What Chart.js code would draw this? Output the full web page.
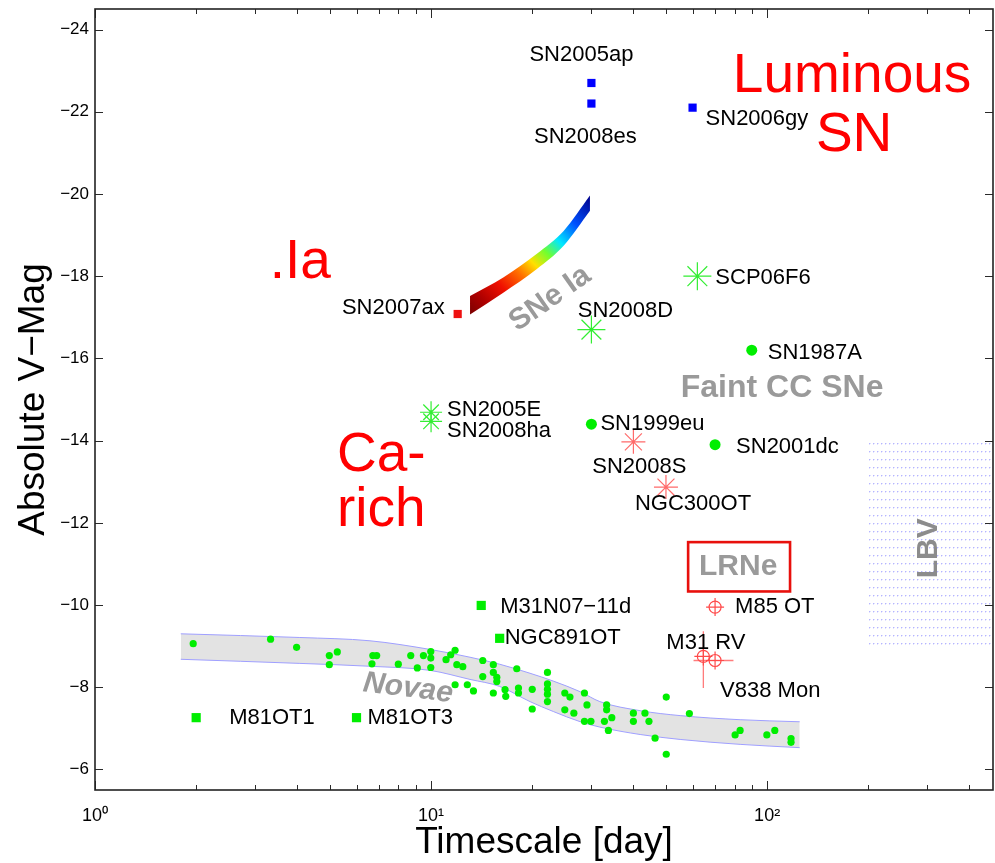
<!DOCTYPE html>
<html><head><meta charset="utf-8">
<script src="https://cdn.jsdelivr.net/npm/chart.js@4/dist/chart.umd.min.js"></script>
<style>html,body{margin:0;padding:0;background:#fff;}#wrap{width:995px;height:863px;}</style>
</head><body><div id="wrap"><canvas id="c" width="995" height="863"></canvas></div>
<script>
const FONT = '"Liberation Sans", Arial, Helvetica, sans-serif';

// ---- axis ticks ----
const xTickValues = [1, 10, 100];
const xTickLabels = ['10\u2070', '10\u00B9', '10\u00B2'];
const yTickValues = [-24, -22, -20, -18, -16, -14, -12, -10, -8, -6];

// ---- luminous SNe (blue squares) ----
const luminousNames = ['SN2005ap', 'SN2008es', 'SN2006gy'];
const luminousT = [30, 30, 60];
const luminousMag = [-22.7, -22.2, -22.1];

// ---- .Ia (red square) ----
const dotIaNames = ['SN2007ax'];
const dotIaT = [12];
const dotIaMag = [-17.08];

// ---- green asterisks ----
const starNames = ['SCP06F6', 'SN2008D', 'SN2005E', 'SN2008ha'];
const starT = [62, 30, 10, 10];
const starMag = [-18.0, -16.7, -14.69, -14.47];

// ---- faint CC SNe (green circles) ----
const ccNames = ['SN1987A', 'SN1999eu', 'SN2001dc'];
const ccT = [90, 30, 70];
const ccMag = [-16.2, -14.4, -13.9];

// ---- red asterisks ----
const redStarNames = ['SN2008S', 'NGC300OT'];
const redStarT = [40, 50];
const redStarMag = [-13.97, -12.87];

// ---- green squares ----
const otNames = ['M31N07\u221211d', 'NGC891OT', 'M81OT1', 'M81OT3'];
const otT = [14.1, 16.0, 2.0, 6.0];
const otMag = [-9.99, -9.19, -7.26, -7.26];

// ---- LRNe (red circled plus) ----
const lrnNames = ['M85 OT', 'M31 RV', 'V838 Mon'];
const lrnT = [70, 64.6, 70];
const lrnMag = [-9.95, -8.75, -8.65];
const m31rvErrMag = [-9.36, -7.98];
const v838ErrT = [60.4, 79.4];

// ---- novae ----
const novaeT = [1.96, 3.33, 3.98, 4.98, 5.26, 4.98, 6.71, 6.89, 6.67, 7.99,
  8.70, 9.10, 9.49, 9.98, 9.98, 9.98, 11.08, 11.44, 11.79, 11.93,
  12.43, 11.79, 12.82, 13.37, 14.25, 14.25, 15.32, 15.32, 15.69, 15.69,
  15.32, 16.6, 16.68, 17.99, 18.2, 18.2, 20.0, 20.0, 22.2, 22.2,
  22.2, 22.2, 22.2, 25.0, 25.9, 25.0, 26.6, 28.6, 29.1, 28.6,
  29.9, 33.3, 33.3, 34.5, 32.8, 33.7, 40.0, 40.0, 43.3, 44.5,
  46.4, 50.1, 58.7, 50.1, 80.3, 83.1, 99.8, 105.4, 117.8, 117.8];
const novaeMag = [-9.06, -9.17, -8.97, -8.77, -8.86, -8.55, -8.77, -8.77, -8.57, -8.56,
  -8.77, -8.47, -8.77, -8.87, -8.71, -8.48, -8.67, -8.79, -8.90, -8.55,
  -8.50, -8.06, -8.06, -7.91, -8.65, -8.26, -8.55, -8.36, -8.24, -8.14,
  -7.86, -7.94, -7.78, -8.45, -7.98, -7.86, -7.95, -7.47, -8.36, -8.08,
  -7.95, -7.83, -7.65, -7.86, -7.76, -7.45, -7.37, -7.86, -7.57, -7.17,
  -7.17, -7.57, -7.45, -7.26, -7.17, -6.95, -7.37, -7.17, -7.37, -7.17,
  -6.76, -7.76, -7.36, -6.37, -6.84, -6.95, -6.84, -6.95, -6.75, -6.66];

// ---- novae band ----
const novaeBandT = [1.8, 4.07, 6.58, 9.93, 13.06, 16.0, 19.7, 23.1, 27.8, 31.8, 41.9, 55.1, 83.1, 125];
const novaeBandUpper = [-9.30, -9.21, -9.13, -8.92, -8.73, -8.56, -8.34, -8.15, -7.89, -7.65, -7.43, -7.31, -7.21, -7.16];
const novaeBandLower = [-8.68, -8.58, -8.51, -8.41, -8.19, -8.02, -7.65, -7.41, -7.16, -7.03, -6.85, -6.73, -6.61, -6.53];

// ---- SNe Ia band ----
const iaBandT = [13.06, 16.4, 20.6, 24.8, 29.7];
const iaBandUpper = [-17.52, -17.97, -18.54, -19.10, -19.96];
const iaBandLower = [-17.07, -17.60, -18.17, -18.74, -19.59];

// ---- LBV region ----
const lbvT = [200, 600];
const lbvMagRange = [-14, -9];

// ---- LRNe box ----
const lrnBoxT = [58.2, 117];
const lrnBoxMag = [-11.53, -10.33];

// ---- text annotations (anchored in data coordinates) ----
const annotations = [
  {text: 'Luminous', t: 179, mag: -22.86, color: '#ff0000', size: 55, bold: false, align: 'center'},
  {text: 'SN', t: 181.5, mag: -21.42, color: '#ff0000', size: 55, bold: false, align: 'center'},
  {text: '.Ia', t: 4.08, mag: -18.32, color: '#ff0000', size: 55, bold: false, align: 'center'},
  {text: 'Ca-', t: 5.25, mag: -13.62, color: '#ff0000', size: 55, bold: false, align: 'left'},
  {text: 'rich', t: 5.25, mag: -12.28, color: '#ff0000', size: 55, bold: false, align: 'left'},
  {text: 'SNe Ia', t: 22.6, mag: -17.45, color: '#9a9a9a', size: 30, bold: true, align: 'center', rot: -35},
  {text: 'Faint CC SNe', t: 110.8, mag: -15.28, color: '#9a9a9a', size: 32, bold: true, align: 'center'},
  {text: 'Novae', t: 8.54, mag: -7.97, color: '#9a9a9a', size: 30, bold: true, italic: true, align: 'center', rot: 7},
  {text: 'LRNe', t: 82, mag: -10.92, color: '#9a9a9a', size: 30, bold: true, align: 'center'},
  {text: 'LBV', t: 303, mag: -11.38, color: '#8c8c8c', size: 30, bold: true, align: 'center', rot: -90}
];

// label placement relative to each marker (pixels)
const labelStyle = {
  'SN2005ap': [-10, -28, 'center'], 'SN2008es': [-6, 33, 'center'], 'SN2006gy': [13, 11, 'left'],
  'SN2007ax': [-13, -6, 'right'], 'SCP06F6': [18, 2, 'left'], 'SN2008D': [34, -19, 'center'],
  'SN1987A': [16, 3, 'left'], 'SN2005E': [16, -2, 'left'], 'SN2008ha': [16, 10, 'left'],
  'SN1999eu': [9, 0, 'left'], 'SN2001dc': [21, 2, 'left'], 'SN2008S': [6, 25, 'center'],
  'NGC300OT': [-31, 17, 'left'], 'M31N07\u221211d': [19, 2, 'left'], 'NGC891OT': [5, 0, 'left'],
  'M85 OT': [20, 0, 'left'], 'M31 RV': [-37, -13, 'left'], 'V838 Mon': [5, 30, 'left'],
  'M81OT1': [33, 0, 'left'], 'M81OT3': [11, 0, 'left']
};

const pts = (ts, ms) => ts.map((t, i) => ({x: t, y: ms[i]}));
const labelGroups = [
  [luminousNames, luminousT, luminousMag], [dotIaNames, dotIaT, dotIaMag],
  [starNames, starT, starMag], [ccNames, ccT, ccMag], [redStarNames, redStarT, redStarMag],
  [otNames, otT, otMag], [lrnNames, lrnT, lrnMag]
];

const canvas = document.getElementById('c');
const mainCtx = canvas.getContext('2d');

// dotted pattern for LBV
const tile = document.createElement('canvas');
tile.width = 4; tile.height = 8;
const tg = tile.getContext('2d');
tg.fillStyle = 'rgba(120,120,255,0.55)';
tg.fillRect(1, 3, 1, 1);
tg.fillStyle = 'rgba(120,120,255,0.22)';
tg.fillRect(2, 3, 1, 1);
tg.fillRect(1, 4, 1, 1);
const lbvPattern = mainCtx.createPattern(tile, 'repeat');

function iaGradient(ctx) {
  const chart = ctx.chart;
  if (!chart.chartArea) return '#ff0000';
  const xs = chart.scales.x, ys = chart.scales.y;
  const g = chart.ctx.createLinearGradient(
    xs.getPixelForValue(iaBandT[0]), ys.getPixelForValue(iaBandLower[0]),
    xs.getPixelForValue(iaBandT[iaBandT.length - 1]), ys.getPixelForValue(iaBandUpper[iaBandT.length - 1]));
  g.addColorStop(0.0, '#7a0000');
  g.addColorStop(0.12, '#b00000');
  g.addColorStop(0.25, '#f01000');
  g.addColorStop(0.38, '#ff7000');
  g.addColorStop(0.48, '#ffe000');
  g.addColorStop(0.58, '#70ff30');
  g.addColorStop(0.68, '#00e8ff');
  g.addColorStop(0.82, '#0050ff');
  g.addColorStop(1.0, '#00008a');
  return g;
}

const bandLine = {showLine: true, pointRadius: 0, borderWidth: 0, cubicInterpolationMode: 'monotone'};

const overlayPlugin = {
  id: 'overlay',
  beforeDatasetsDraw(chart) {
    const {ctx, scales: {x, y}} = chart;
    ctx.save();
    ctx.strokeStyle = 'rgba(255,110,110,0.9)';
    ctx.lineWidth = 1.3;
    const px = x.getPixelForValue(lrnT[1]);
    ctx.beginPath();
    ctx.moveTo(px, y.getPixelForValue(m31rvErrMag[0]));
    ctx.lineTo(px, y.getPixelForValue(m31rvErrMag[1]));
    const py = y.getPixelForValue(lrnMag[2]);
    ctx.moveTo(x.getPixelForValue(v838ErrT[0]), py);
    ctx.lineTo(x.getPixelForValue(v838ErrT[1]), py);
    ctx.stroke();
    ctx.restore();
  },
  afterDatasetsDraw(chart) {
    const {ctx, scales: {x, y}} = chart;
    ctx.save();
    ctx.strokeStyle = '#e8100c';
    ctx.lineWidth = 2.6;
    const bx0 = x.getPixelForValue(lrnBoxT[0]), bx1 = x.getPixelForValue(lrnBoxT[1]);
    const by0 = y.getPixelForValue(lrnBoxMag[0]), by1 = y.getPixelForValue(lrnBoxMag[1]);
    ctx.strokeRect(bx0, by0, bx1 - bx0, by1 - by0);
    annotations.forEach(a => {
      ctx.save();
      ctx.translate(x.getPixelForValue(a.t), y.getPixelForValue(a.mag));
      if (a.rot) ctx.rotate(a.rot * Math.PI / 180);
      ctx.font = (a.italic ? 'italic ' : '') + (a.bold ? 'bold ' : '') + a.size + 'px ' + FONT;
      ctx.fillStyle = a.color;
      ctx.textAlign = a.align;
      ctx.textBaseline = 'middle';
      ctx.fillText(a.text, 0, 0);
      ctx.restore();
    });
    ctx.font = '22px ' + FONT;
    ctx.fillStyle = '#000';
    ctx.textBaseline = 'middle';
    labelGroups.forEach(([names, ts, ms]) => {
      names.forEach((n, i) => {
        const s = labelStyle[n];
        ctx.textAlign = s[2];
        ctx.fillText(n, x.getPixelForValue(ts[i]) + s[0], y.getPixelForValue(ms[i]) + s[1]);
      });
    });
    ctx.restore();
  },
  afterDraw(chart) {
    const {ctx, chartArea: ca, scales: {x, y}} = chart;
    ctx.save();
    ctx.strokeStyle = '#2a2a2a';
    ctx.lineWidth = 1;
    ctx.beginPath();
    yTickValues.forEach(v => {
      const py = Math.round(y.getPixelForValue(v)) + 0.5;
      ctx.moveTo(ca.left, py); ctx.lineTo(ca.left + 8, py);
      ctx.moveTo(ca.right, py); ctx.lineTo(ca.right - 8, py);
    });
    for (let d = 1; d <= 100; d *= 10) {
      for (let m = 1; m <= 9; m++) {
        const v = d * m;
        if (v > x.max) continue;
        const px = Math.round(x.getPixelForValue(v)) + 0.5;
        const len = m === 1 ? 9 : 5;
        ctx.moveTo(px, ca.bottom); ctx.lineTo(px, ca.bottom - len);
        ctx.moveTo(px, ca.top); ctx.lineTo(px, ca.top + len);
      }
    }
    ctx.stroke();
    ctx.lineWidth = 1.6;
    ctx.strokeStyle = '#222';
    ctx.strokeRect(ca.left, ca.top, ca.right - ca.left, ca.bottom - ca.top);
    ctx.restore();
  }
};

new Chart(canvas, {
  type: 'scatter',
  data: {
    datasets: [
      {label: 'Luminous SNe', data: pts(luminousT, luminousMag), pointStyle: 'rect', pointRadius: 5.8, backgroundColor: '#0000ff', borderWidth: 0, order: 0},
      {label: '.Ia', data: pts(dotIaT, dotIaMag), pointStyle: 'rect', pointRadius: 5.8, backgroundColor: '#ee1111', borderWidth: 0, order: 0},
      {label: 'Green asterisks', data: pts(starT, starMag), pointStyle: 'star', pointRadius: [14, 14, 11, 11], borderColor: '#33ee33', borderWidth: 1.2, backgroundColor: 'transparent', order: 0},
      {label: 'Faint CC SNe', data: pts(ccT, ccMag), pointStyle: 'circle', pointRadius: 5.5, backgroundColor: '#00ee00', borderWidth: 0, order: 0},
      {label: 'Red asterisks', data: pts(redStarT, redStarMag), pointStyle: 'star', pointRadius: 12, borderColor: '#ff6a6a', borderWidth: 1.2, backgroundColor: 'transparent', order: 0},
      {label: 'Optical transients', data: pts(otT, otMag), pointStyle: 'rect', pointRadius: 6.5, backgroundColor: '#00ee00', borderWidth: 0, order: 0},
      {label: 'LRNe circles', data: pts(lrnT, lrnMag), pointStyle: 'circle', pointRadius: 6, backgroundColor: 'transparent', borderColor: '#ff4a4a', borderWidth: 1.2, order: 0},
      {label: 'LRNe crosses', data: pts(lrnT, lrnMag), pointStyle: 'cross', pointRadius: 9, borderColor: '#ff4a4a', borderWidth: 1.2, order: 0},
      {label: 'Novae', data: pts(novaeT, novaeMag), pointStyle: 'circle', pointRadius: 3.6, backgroundColor: '#00ee00', borderWidth: 0, order: 1},
      Object.assign({label: 'Novae band upper', data: pts(novaeBandT, novaeBandUpper), borderColor: '#9f9fff', borderWidth: 1, fill: false, order: 5}, {showLine: true, pointRadius: 0, cubicInterpolationMode: 'monotone'}),
      Object.assign({label: 'Novae band lower', data: pts(novaeBandT, novaeBandLower), borderColor: '#9f9fff', borderWidth: 1, backgroundColor: '#e3e3e3', fill: '-1', order: 5}, {showLine: true, pointRadius: 0, cubicInterpolationMode: 'monotone'}),
      Object.assign({label: 'SNe Ia upper', data: pts(iaBandT, iaBandUpper), borderColor: 'transparent', fill: false, order: 5}, bandLine),
      Object.assign({label: 'SNe Ia lower', data: pts(iaBandT, iaBandLower), borderColor: 'transparent', backgroundColor: iaGradient, fill: '-1', order: 5}, bandLine),
      Object.assign({label: 'LBV top', data: pts(lbvT, [lbvMagRange[0], lbvMagRange[0]]), borderColor: 'transparent', fill: false, order: 6}, bandLine, {cubicInterpolationMode: 'default'}),
      Object.assign({label: 'LBV bottom', data: pts(lbvT, [lbvMagRange[1], lbvMagRange[1]]), borderColor: 'transparent', backgroundColor: lbvPattern, fill: '-1', order: 6}, bandLine, {cubicInterpolationMode: 'default'})
    ]
  },
  options: {
    responsive: false,
    animation: false,
    events: [],
    layout: {autoPadding: false, padding: {top: 9, right: 2, left: 0, bottom: 0}},
    plugins: {legend: {display: false}, tooltip: {enabled: false}},
    scales: {
      x: {
        type: 'logarithmic', min: 1, max: 470, position: 'bottom',
        afterBuildTicks: s => { s.ticks = xTickValues.map(v => ({value: v})); },
        afterFit: s => { s.height = 73; s.paddingLeft = 0; s.paddingRight = 0; },
        grid: {display: false, drawTicks: false},
        border: {display: false},
        ticks: {font: {family: FONT, size: 18}, color: '#000', padding: 15, maxRotation: 0, autoSkip: false,
          callback: v => xTickLabels[xTickValues.indexOf(v)]},
        title: {display: true, text: 'Timescale [day]', color: '#000', font: {family: FONT, size: 37, lineHeight: 1}, padding: {top: 0, bottom: 1.5}}
      },
      y: {
        type: 'linear', min: -24.5, max: -5.5, reverse: true,
        afterBuildTicks: s => { s.ticks = yTickValues.map(v => ({value: v})); },
        afterFit: s => { s.width = 95; s.paddingTop = 0; s.paddingBottom = 0; },
        grid: {display: false, drawTicks: false},
        border: {display: false},
        ticks: {font: {family: FONT, size: 17}, color: '#000', padding: 6, autoSkip: false,
          callback: v => '\u2212' + Math.abs(v)},
        title: {display: true, text: 'Absolute V\u2212Mag', color: '#000', font: {family: FONT, size: 37, lineHeight: 1}, padding: {top: 15, bottom: 0}}
      }
    }
  },
  plugins: [overlayPlugin]
});
</script>
</body></html>
